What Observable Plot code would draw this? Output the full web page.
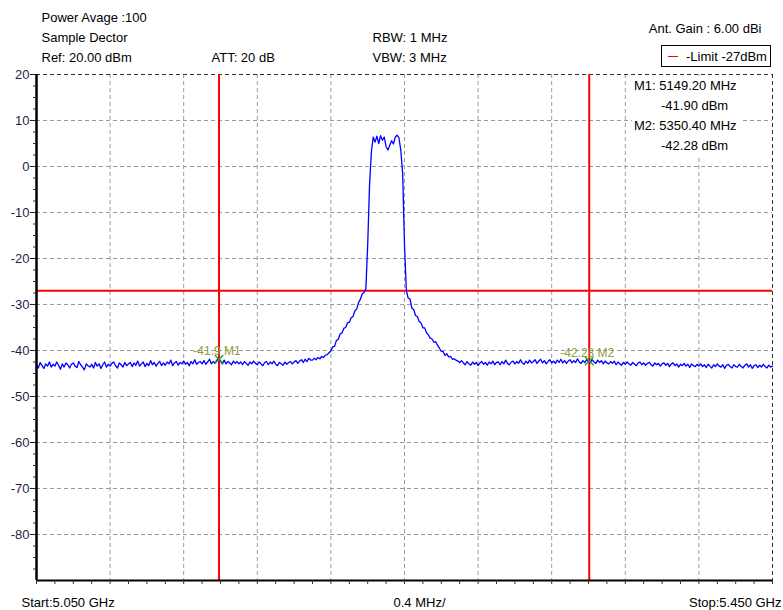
<!DOCTYPE html>
<html><head><meta charset="utf-8">
<script src="https://cdn.jsdelivr.net/npm/d3@7"></script>
<script src="https://cdn.jsdelivr.net/npm/@observablehq/plot@0.6"></script>
<style>
body{margin:0;background:#fff;}
#wrap{position:relative;width:783px;height:610px;font-family:"Liberation Sans",Arial,sans-serif;font-size:13px;color:#000;}
.ov{position:absolute;white-space:nowrap;font-family:"Liberation Sans",Arial,sans-serif;font-size:13px;}
</style></head><body><div id="wrap"></div>
<script>
// ---- data ----
const sweepStartMHz = 5050;
const sweepStepMHz = 1;
const traceDbm = [
  -43.1,-43.8,-42.6,-43.3,-43.9,-42.9,-43.4,-42.5,-43.6,-43.0,
  -43.4,-42.5,-43.2,-44.1,-42.9,-43.6,-42.7,-43.1,-43.8,-43.0,
  -42.7,-43.4,-43.7,-42.4,-43.1,-43.6,-44.2,-42.9,-43.3,-43.6,
  -43.0,-43.8,-42.6,-43.4,-42.9,-43.9,-43.1,-42.5,-43.6,-43.0,
  -43.4,-42.8,-42.5,-43.3,-43.8,-42.7,-43.1,-43.6,-42.6,-43.3,
  -42.9,-42.6,-43.5,-42.7,-43.2,-42.3,-43.4,-42.9,-42.5,-43.5,
  -42.8,-43.3,-42.2,-43.1,-42.6,-43.4,-42.8,-42.4,-43.3,-42.7,
  -43.2,-42.5,-42.9,-42.1,-43.3,-42.7,-42.4,-43.2,-42.6,-42.9,
  -42.3,-43.0,-42.6,-43.3,-42.4,-42.9,-42.0,-43.0,-42.6,-42.4,
  -42.9,-42.2,-43.0,-42.5,-41.9,-42.9,-42.4,-42.8,-42.1,-41.7,
  -42.3,-42.9,-42.1,-42.9,-42.4,-42.7,-43.1,-42.3,-42.8,-42.4,
  -42.9,-42.5,-43.1,-42.4,-42.8,-43.2,-42.5,-42.9,-42.3,-42.8,
  -43.1,-42.5,-42.9,-43.3,-42.6,-42.4,-43.1,-42.5,-42.9,-42.3,
  -43.0,-43.3,-42.6,-42.9,-43.2,-42.5,-43.0,-42.6,-42.4,-42.9,
  -42.5,-42.2,-42.8,-42.3,-42.0,-42.6,-41.9,-42.4,-41.7,-42.1,
  -42.1,-41.7,-42.0,-41.5,-41.8,-41.3,-41.5,-41.0,-40.9,-40.5,
  -40.1,-39.2,-39.1,-37.8,-37.6,-36.4,-36.2,-35.2,-35.0,-34.0,
  -33.9,-32.9,-32.6,-31.4,-31.0,-29.6,-28.9,-27.7,-27.4,-26.6,
  -17.0,-4.0,3.2,6.4,5.3,6.6,5.0,6.7,5.7,6.4,
  4.3,3.6,4.6,5.6,4.9,6.4,6.8,6.2,3.5,-1.5,
  -17.0,-27.0,-28.6,-28.8,-30.8,-31.1,-32.4,-32.6,-33.7,-34.0,
  -35.1,-35.1,-36.2,-36.6,-37.3,-37.5,-38.2,-38.1,-38.9,-39.5,
  -40.2,-40.2,-41.1,-40.7,-41.4,-41.3,-41.9,-41.8,-42.1,-42.3,
  -42.6,
  -42.2,-42.7,-43.1,-42.4,-42.9,-43.2,-42.5,-43.0,-42.6,-43.3,
  -42.7,-42.4,-43.0,-42.6,-43.2,-42.5,-42.9,-42.3,-43.1,-42.6,
  -42.5,-43.1,-42.4,-42.9,-42.1,-42.8,-43.1,-42.5,-42.3,-42.9,
  -42.4,-42.8,-42.0,-42.7,-43.0,-42.3,-42.8,-42.1,-42.7,-42.4,
  -42.0,-42.8,-42.3,-41.9,-42.7,-42.2,-42.9,-42.4,-42.0,-42.7,
  -42.3,-42.8,-42.1,-42.6,-41.9,-42.7,-42.2,-42.8,-42.3,-42.0,
  -42.7,-42.2,-42.6,-41.8,-42.5,-42.8,-42.2,-42.6,-42.0,-42.4,
  -42.6,-42.0,-42.5,-42.8,-42.1,-42.6,-42.2,-42.9,-42.3,-42.7,
  -42.9,-42.4,-42.8,-42.3,-43.1,-42.5,-42.9,-43.2,-42.6,-43.0,
  -42.5,-42.9,-43.2,-42.6,-43.0,-43.3,-42.7,-42.5,-43.1,-42.7,
  -43.2,-42.8,-42.6,-43.1,-43.4,-42.7,-43.1,-42.8,-43.4,-42.9,
  -42.7,-43.2,-42.8,-43.5,-42.9,-42.7,-43.3,-42.9,-43.6,-43.0,
  -43.3,-42.8,-43.4,-43.0,-43.7,-42.9,-43.3,-43.5,-43.0,-43.4,
  -42.9,-43.5,-43.1,-43.7,-43.0,-43.4,-43.8,-43.1,-43.5,-42.9,
  -43.4,-43.6,-43.1,-43.9,-43.2,-43.0,-43.5,-43.8,-43.1,-43.5,
  -43.6,-43.0,-43.5,-43.8,-43.2,-42.9,-43.6,-43.1,-43.9,-43.3,
  -43.1,-43.7,-43.2,-43.6,-43.0,-43.5,-43.8,-43.2,-43.6,-43.4
];
const limitDbm = -27;
const markerNames = ["M1", "M2"];
const markerFreqMHz = [5149.20, 5350.40];
const markerDbm = [-41.90, -42.28];
const markerTags = ["-41.9 M1", "-42.28 M2"];
const yTickValues = [20, 10, 0, -10, -20, -30, -40, -50, -60, -70, -80];
const yMinorValues = [17.5,15,12.5,7.5,5,2.5,-2.5,-5,-7.5,-12.5,-15,-17.5,-22.5,-25,-27.5,-32.5,-35,-37.5,-42.5,-45,-47.5,-52.5,-55,-57.5,-62.5,-65,-67.5,-72.5,-75,-77.5,-82.5,-85,-87.5];
const xDivisions = [5090, 5130, 5170, 5210, 5250, 5290, 5330, 5370, 5410];
const xMinorValues = [5050,5060,5070,5080,5090,5100,5110,5120,5130,5140,5150,5160,5170,5180,5190,5200,5210,5220,5230,5240,5250,5260,5270,5280,5290,5300,5310,5320,5330,5340,5350,5360,5370,5380,5390,5400,5410,5420,5430,5440,5450];
const headerPower = "Power Avage :100";
const headerDetector = "Sample Dector";
const headerRef = "Ref: 20.00 dBm";
const headerAtt = "ATT: 20 dB";
const headerRbw = "RBW: 1 MHz";
const headerVbw = "VBW: 3 MHz";
const headerGain = "Ant. Gain : 6.00 dBi";
const legendText = "-Limit -27dBm";
const footerStart = "Start:5.050 GHz";
const footerSpan = "0.4 MHz/";
const footerStop = "Stop:5.450 GHz";

// ---- tables ----
const trace = traceDbm.map((db, i) => ({f: sweepStartMHz + i * sweepStepMHz, db}));
const markers = markerNames.map((n, i) => ({name: n, f: markerFreqMHz[i], db: markerDbm[i], tag: markerTags[i]}));

const gridStyle = {stroke: "#9a9a9a", strokeOpacity: 1, strokeDasharray: "4,3", strokeWidth: 1};
const txt = (s, o) => Plot.text([s], {text: d => d, fill: "#000", fontSize: 13, lineAnchor: "bottom", ...o});

const chart = Plot.plot({
  width: 783, height: 610,
  marginTop: 74, marginLeft: 36, marginRight: 11, marginBottom: 30,
  style: {fontFamily: "'Liberation Sans', Arial, sans-serif", fontSize: "13px", background: "#fff", overflow: "visible"},
  x: {domain: [5050, 5450]},
  y: {domain: [-90, 20]},
  marks: [
    Plot.gridX(xDivisions, gridStyle),
    Plot.gridY(yTickValues.filter(v => v < 20), gridStyle),
    Plot.ruleY([20], {stroke: "#333", strokeDasharray: "4,3", strokeWidth: 1}),
    Plot.ruleX([5450], {stroke: "#333", strokeDasharray: "4,3", strokeWidth: 1}),
    Plot.ruleY([limitDbm], {stroke: "#ff0000", strokeWidth: 2}),
    Plot.ruleX(markers, {x: "f", stroke: "#ff0000", strokeWidth: 2}),
    Plot.line(trace, {x: "f", y: "db", stroke: "#0000ff", strokeWidth: 1.3}),
    Plot.dot(markers, {x: "f", y: "db", symbol: "times", r: 4, stroke: "#2a9a2a", strokeWidth: 1.3}),
    Plot.text(markers, {x: "f", y: "db", text: "tag", dx: -2, dy: -8, fill: "#8c9c3c", fontSize: 12}),
    Plot.ruleX([5050], {stroke: "#000", strokeWidth: 2.5}),
    Plot.ruleY([-90], {stroke: "#000", strokeWidth: 2}),
    Plot.axisY(yTickValues, {anchor: "left", tickSize: 6, tickPadding: 1, label: null, color: "#1f1f3f", fontSize: 13, tickFormat: d => String(d)}),
    Plot.axisY(yMinorValues, {anchor: "left", tickSize: 3, tickFormat: () => "", label: null, color: "#333"}),
    Plot.axisX(xMinorValues, {anchor: "bottom", tickSize: 4, tickFormat: () => "", label: null, color: "#333"}),
    txt(headerPower, {frameAnchor: "top-left", dx: 5, dy: -53, textAnchor: "start"}),
    txt(headerDetector, {frameAnchor: "top-left", dx: 5, dy: -33, textAnchor: "start"}),
    txt(headerRef, {frameAnchor: "top-left", dx: 5, dy: -13, textAnchor: "start"}),
    txt(headerAtt, {frameAnchor: "top-left", dx: 175, dy: -13, textAnchor: "start"}),
    txt(headerRbw, {frameAnchor: "top-left", dx: 336, dy: -33, textAnchor: "start"}),
    txt(headerVbw, {frameAnchor: "top-left", dx: 336, dy: -13, textAnchor: "start"}),
    txt(headerGain, {frameAnchor: "top-right", dx: -11, dy: -42, textAnchor: "end"}),
    txt(footerStart, {frameAnchor: "bottom-left", dx: -15, dy: 26, textAnchor: "start"}),
    txt(footerSpan, {frameAnchor: "bottom-left", dx: 357, dy: 26, textAnchor: "start"}),
    txt(footerStop, {frameAnchor: "bottom-right", dx: 9, dy: 26, textAnchor: "end"})
  ]
});

const wrap = document.getElementById("wrap");
wrap.appendChild(chart);

// legend box
const leg = document.createElement("div");
leg.className = "ov";
leg.style.cssText = "left:661px;top:45px;width:108px;height:20px;border:1px solid #000;background:#fff;";
leg.innerHTML = '<span style="position:absolute;left:6px;top:10px;width:10px;height:0;border-top:1.5px solid #ff0000"></span>' +
  '<span style="position:absolute;left:24px;top:3px;line-height:16px;font-size:13px;">' + legendText + '</span>';
wrap.appendChild(leg);

// marker readout
const ro = document.createElement("div");
ro.className = "ov";
ro.style.cssText = "left:632px;top:76px;width:111px;background:#fff;line-height:20px;";
ro.innerHTML = markers.map(m =>
  '<div style="padding-left:2px">' + m.name + ": " + m.f.toFixed(2) + " MHz</div>" +
  '<div style="padding-left:29px">' + m.db.toFixed(2) + " dBm</div>").join("");
wrap.appendChild(ro);
</script>
</body></html>
